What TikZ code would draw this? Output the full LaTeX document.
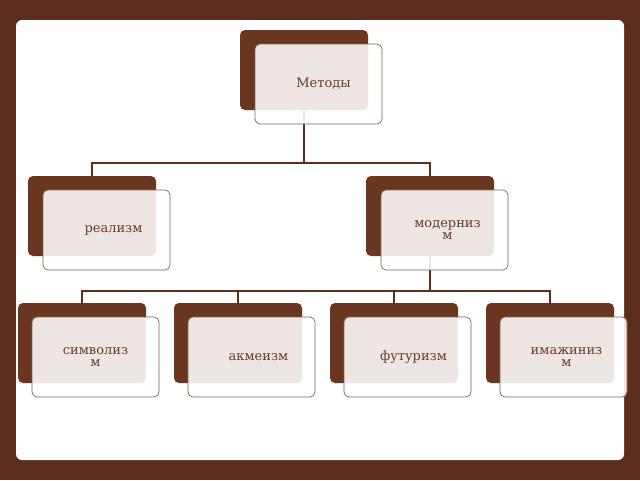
\documentclass[tikz,border=0pt]{standalone}
\usepackage{fontspec}
\setmainfont{DejaVu Serif}
\begin{document}
\definecolor{bark}{HTML}{5C2D1C}
\definecolor{darkbox}{HTML}{6B361F}
\definecolor{ink}{HTML}{6B3A22}
\begin{tikzpicture}[x=1pt,y=-1pt,
	back/.style={fill=darkbox,rounded corners=5pt,minimum width=128pt,minimum height=80pt,inner sep=0pt},
	front/.style={draw=ink!80,line width=0.7pt,fill=white,fill opacity=0.88,text opacity=1,rounded corners=5pt,minimum width=127pt,minimum height=80pt,inner sep=0pt,text=ink,font=\fontsize{13}{12}\selectfont,align=center},
	link/.style={draw=bark,line width=1.6pt}]
	\fill[bark] (0,0) rectangle (640,480);
	\fill[white,rounded corners=6pt] (16,20) rectangle (624,460);
	
	\node[back] (metb) at (304,70) {};
	\node[back] (realb) at (92,216) {};
	\node[back] (modb) at (430,216) {};
	\node[back] (symb) at (82,343) {};
	\node[back] (akmb) at (238,343) {};
	\node[back] (futb) at (394,343) {};
	\node[back] (imab) at (550,343) {};
	
	\draw[link] (metb.south) -- ++(0,53) coordinate (j1);
	\draw[link] (realb.north) |- (j1) -| (modb.north);
	\draw[link] (modb.south) -- ++(0,35) coordinate (j2);
	\draw[link] (symb.north) |- (j2) -| (imab.north);
	\draw[link] (akmb.north) -- (akmb.north |- j2);
	\draw[link] (futb.north) -- (futb.north |- j2);
	
	\node[front] (met) at (318.5,84) {\hspace{10pt}Методы};
	\node[front] (real) at (106.5,230) {\hspace{14pt}реализм};
	\node[front] (mod) at (444.5,230) {\hspace{6pt}модерниз\\\hspace{6pt}м};
	\node[front] (sym) at (95.5,357) {символиз\\м};
	\node[front] (akm) at (251.5,357) {\hspace{14pt}акмеизм};
	\node[front] (fut) at (407.5,357) {\hspace{12pt}футуризм};
	\node[front] (ima) at (563.5,357) {\hspace{6pt}имажиниз\\\hspace{6pt}м};
\end{tikzpicture}
\end{document}
